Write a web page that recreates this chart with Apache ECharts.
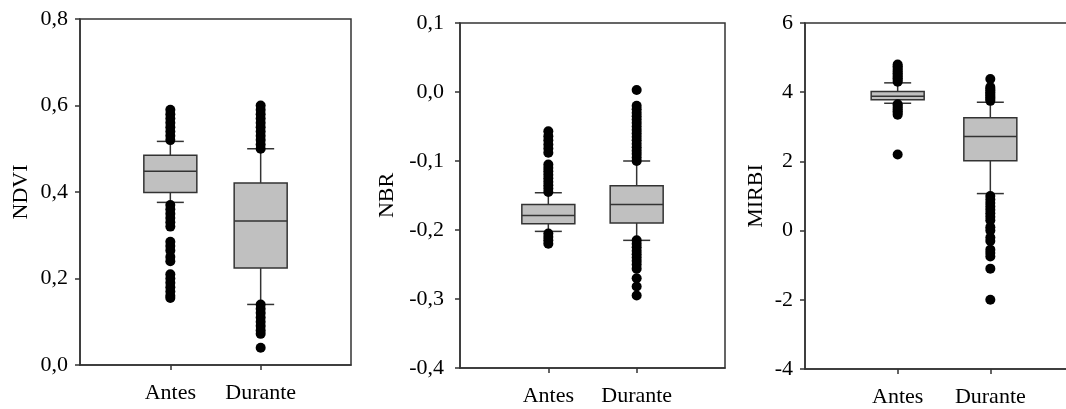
<!DOCTYPE html>
<html>
<head>
<meta charset="utf-8">
<script src="https://cdn.jsdelivr.net/npm/echarts@6/dist/echarts.min.js"></script>
<style>
  html, body { margin: 0; padding: 0; background: #fff; overflow: hidden; }
  /* o painel MIRBI continua para além da margem direita da figura */
  #chart { width: 1090px; height: 409px; }
</style>
</head>
<body>
<div id="chart"></div>
<script>
// categorias (as pontas vazias deixam Antes/Durante em 1/3 e 2/3 do eixo)
var categories = ['', 'Antes', 'Durante', '']

// caixas: [bigode inferior, Q1, mediana, Q3, bigode superior]
var ndviAntesBox = [0.376, 0.399, 0.448, 0.485, 0.517]
var ndviDuranteBox = [0.14, 0.224, 0.333, 0.421, 0.5]
var nbrAntesBox = [-0.202, -0.191, -0.179, -0.163, -0.146]
var nbrDuranteBox = [-0.215, -0.19, -0.163, -0.136, -0.1]
var mirbiAntesBox = [3.68, 3.78, 3.88, 4.02, 4.27]
var mirbiDuranteBox = [1.07, 2.02, 2.72, 3.26, 3.71]

// outliers
var ndviAntesOut = [0.52, 0.53, 0.54, 0.55, 0.56, 0.57, 0.58, 0.59,
  0.37, 0.36, 0.35, 0.34, 0.33, 0.32, 0.285, 0.275, 0.265, 0.25, 0.24,
  0.21, 0.2, 0.19, 0.18, 0.17, 0.16, 0.155]
var ndviDuranteOut = [0.5, 0.51, 0.52, 0.53, 0.54, 0.55, 0.56, 0.57, 0.58, 0.59, 0.6,
  0.14, 0.13, 0.12, 0.11, 0.1, 0.09, 0.08, 0.072, 0.04]
var nbrAntesOut = [-0.145, -0.14, -0.135, -0.13, -0.125, -0.12, -0.115, -0.11, -0.105,
  -0.088, -0.082, -0.076, -0.07, -0.064, -0.057,
  -0.205, -0.21, -0.215, -0.22]
var nbrDuranteOut = [0.003, -0.02, -0.025, -0.03, -0.035, -0.04, -0.045, -0.05, -0.055, -0.06,
  -0.065, -0.07, -0.075, -0.08, -0.085, -0.09, -0.095, -0.1,
  -0.215, -0.22, -0.225, -0.23, -0.235, -0.24, -0.245, -0.25, -0.256,
  -0.27, -0.282, -0.295]
var mirbiAntesOut = [4.3, 4.35, 4.4, 4.45, 4.5, 4.55, 4.6, 4.65, 4.7, 4.75, 4.8,
  3.65, 3.6, 3.55, 3.5, 3.45, 3.4, 3.35, 2.2]
var mirbiDuranteOut = [3.75, 3.8, 3.85, 3.9, 3.95, 4.0, 4.05, 4.1, 4.15, 4.38,
  1.0, 0.9, 0.8, 0.7, 0.6, 0.5, 0.4, 0.3, 0.1, 0.0, -0.2, -0.3,
  -0.55, -0.65, -0.75, -1.1, -2.0]

// eixos y
var yNames = ['NDVI', 'NBR', 'MIRBI']
var yMin = [0, -0.4, -4]
var yMax = [0.8, 0.1, 6]
var yInterval = [0.2, 0.1, 2]
var yDecimals = [1, 1, 0]

var chart = echarts.init(document.getElementById('chart'))
var font = 'Liberation Serif'
var lineColor = '#333'

var grids = [
  {left: 80, top: 19, width: 271, height: 346},
  {left: 460, top: 23, width: 265, height: 345},
  {left: 805, top: 23, width: 278, height: 346}
]
var nameGaps = [48, 62, 38]
var labelMargins = [12, 16, 12]

function renderBox(params, api) {
  var x = api.value(0)
  var p = [1, 2, 3, 4, 5].map(function (i) { return api.coord([x, api.value(i)]) })
  var cx = p[0][0]
  var hw = 26.5
  var cw = 13.5
  var st = {stroke: lineColor, lineWidth: 1.5}
  return {
    type: 'group',
    children: [
      {type: 'line', shape: {x1: cx, y1: p[0][1], x2: cx, y2: p[1][1]}, style: st},
      {type: 'line', shape: {x1: cx, y1: p[3][1], x2: cx, y2: p[4][1]}, style: st},
      {type: 'line', shape: {x1: cx - cw, y1: p[0][1], x2: cx + cw, y2: p[0][1]}, style: st},
      {type: 'line', shape: {x1: cx - cw, y1: p[4][1], x2: cx + cw, y2: p[4][1]}, style: st},
      {type: 'rect', shape: {x: cx - hw, y: p[3][1], width: 2 * hw, height: p[1][1] - p[3][1]},
        style: {fill: '#c0c0c0', stroke: lineColor, lineWidth: 1.5}},
      {type: 'line', shape: {x1: cx - hw, y1: p[2][1], x2: cx + hw, y2: p[2][1]}, style: st}
    ]
  }
}

var boxes = [
  [ndviAntesBox, ndviDuranteBox],
  [nbrAntesBox, nbrDuranteBox],
  [mirbiAntesBox, mirbiDuranteBox]
]
var outs = [
  [ndviAntesOut, ndviDuranteOut],
  [nbrAntesOut, nbrDuranteOut],
  [mirbiAntesOut, mirbiDuranteOut]
]

var xAxis = []
var yAxis = []
var series = []
for (let i = 0; i < 3; i++) {
  xAxis.push({
    type: 'category',
    gridIndex: i,
    data: categories,
    boundaryGap: false,
    axisLine: {onZero: false, lineStyle: {color: lineColor, width: 1.5}},
    axisTick: {
      length: 5,
      interval: function (idx) { return idx === 1 || idx === 2 },
      lineStyle: {color: lineColor, width: 1.5}
    },
    axisLabel: {
      interval: function (idx) { return idx === 1 || idx === 2 },
      color: '#000', fontFamily: font, fontSize: 22, margin: 17
    },
    splitLine: {show: false}
  })
  yAxis.push({
    type: 'value',
    gridIndex: i,
    min: yMin[i],
    max: yMax[i],
    interval: yInterval[i],
    name: yNames[i],
    nameLocation: 'middle',
    nameRotate: 90,
    nameGap: nameGaps[i],
    nameTextStyle: {color: '#000', fontFamily: font, fontSize: 22},
    axisLine: {show: true, onZero: false, lineStyle: {color: lineColor, width: 1.5}},
    axisTick: {show: true, length: 5, lineStyle: {color: lineColor, width: 1.5}},
    axisLabel: {
      color: '#000', fontFamily: font, fontSize: 22, margin: labelMargins[i],
      formatter: (function (d) {
        return function (v) { return v.toFixed(d).replace('.', ',') }
      })(yDecimals[i])
    },
    splitLine: {show: false}
  })
  series.push({
    type: 'custom',
    xAxisIndex: i,
    yAxisIndex: i,
    renderItem: renderBox,
    encode: {x: 0, y: [1, 2, 3, 4, 5]},
    data: boxes[i].map(function (b, k) { return [k + 1].concat(b) }),
    silent: true,
    z: 2
  })
  let pts = []
  outs[i].forEach(function (arr, k) {
    arr.forEach(function (v) { pts.push([k + 1, v]) })
  })
  series.push({
    type: 'scatter',
    xAxisIndex: i,
    yAxisIndex: i,
    symbol: 'circle',
    symbolSize: 10,
    itemStyle: {color: '#000', opacity: 1},
    data: pts,
    silent: true,
    z: 3
  })
}

var option = {
  animation: false,
  backgroundColor: '#fff',
  grid: grids.map(function (g) {
    return Object.assign({show: true, borderColor: lineColor, borderWidth: 1.5, backgroundColor: 'transparent'}, g)
  }),
  xAxis: xAxis,
  yAxis: yAxis,
  series: series
}

chart.setOption(option)
</script>
</body>
</html>
